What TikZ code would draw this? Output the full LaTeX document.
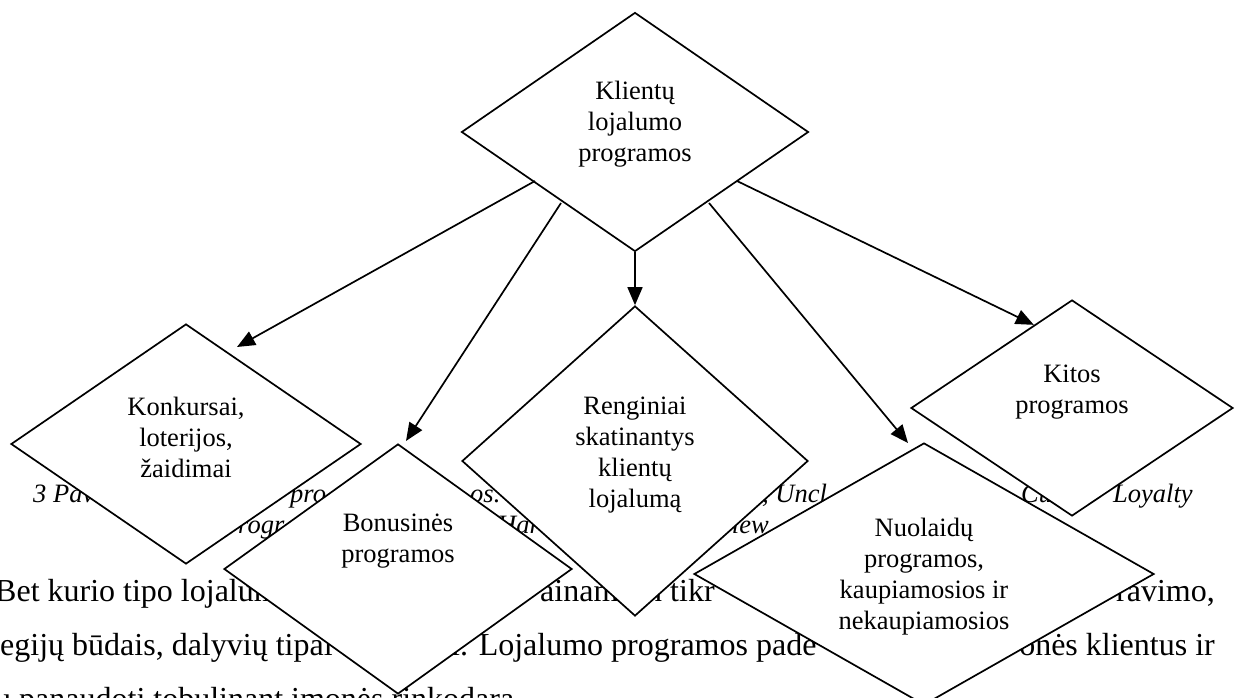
\documentclass[tikz,border=0pt]{standalone}
\usepackage{fontspec}
\setmainfont{Liberation Serif}
\usetikzlibrary{shapes.geometric,arrows.meta,calc}
\newcommand{\dtext}{\fontsize{26.5}{31}\selectfont}
\newcommand{\ctext}{\fontsize{26.5}{31}\selectfont\itshape}
\newcommand{\btext}{\fontsize{32}{36}\selectfont}
\begin{document}
\begin{tikzpicture}[x=1pt,y=-1pt,
  dia/.style={shape=diamond, draw=black, fill=white, line width=1.7pt, inner sep=0pt, aspect=1},
  dlabel/.style={align=center, inner sep=0pt, font=\dtext},
  captext/.style={anchor=base west, inner sep=0pt, font=\ctext},
  bodytext/.style={anchor=base west, inner sep=0pt, font=\btext},
  bodyrtext/.style={anchor=base east, inner sep=0pt, font=\btext},
  arr/.style={line width=1.7pt, -{Triangle[length=18pt,width=15pt]}}]
\useasboundingbox[fill=white] (0,0) rectangle (1242,698);
% text of the page behind the drawing
\node[captext] (c1) at (33,502) {3 Pav};
\node[captext] (c2) at (290,502) {pro};
\node[captext] (c3) at (470,502) {os.};
\node[captext] (c4) at (762,502) {, Uncl};
\node[captext] (c5) at (1021,502) {Cus};
\node[captext] (c6) at (1113,502) {Loyalty};
\node[captext] (c7) at (238,533) {rogr};
\node[captext] (c8) at (497,533) {Harv};
\node[captext] (c9) at (720,533) {view};
\node[bodytext] (b1) at (-5,601) {Bet kurio tipo lojalum};
\node[bodytext] (b2) at (540,601) {ainama};
\node[bodytext] (b3) at (646,601) {n tikr};
\node[bodyrtext] (b4) at (1215,601) {ravimo,};
\node[bodytext] (b5) at (0,655) {egijų būdais, dalyvių tipai};
\node[bodytext] (b6) at (451,655) {i. Lojalumo programos pade};
\node[bodyrtext] (b7) at (1215,655) {onės klientus ir};
\node[bodytext] (b8) at (-5,709) {ų panaudoti tobulinant įmonės rinkodarą};
% diamonds
\node[dia, minimum width=347pt, minimum height=239pt] (K) at (635,132) {};
\node[dia, minimum width=350pt, minimum height=240pt] (Ko) at (186,444) {};
\node[dia, minimum width=348pt, minimum height=250pt] (B) at (398,569) {};
\node[dia, minimum width=346pt, minimum height=310pt] (R) at (635,461) {};
\node[dia, minimum width=460pt, minimum height=262pt] (N) at (924,574) {};
\node[dia, minimum width=322pt, minimum height=216pt] (Ki) at (1072,408) {};
% texts in the diamonds
\node[dlabel] (tK) at (635,124) {Klientų\\lojalumo\\programos};
\node[dlabel] (tKo) at (186,437) {Konkursai,\\loterijos,\\žaidimai};
\node[dlabel] (tB) at (398,541) {Bonusinės\\programos};
\node[dlabel] (tR) at (635,455) {Renginiai\\skatinantys\\klientų\\lojalumą};
\node[dlabel] (tKi) at (1072,392) {Kitos\\programos};
\begin{scope}
\clip (800,500) rectangle (1050,636);
\node[dlabel] (tN) at (924,577) {Nuolaidų\\programos,\\kaupiamosios ir\\nekaupiamosios};
\end{scope}
% connector ends
\coordinate (sKo) at (535,181);
\coordinate (sB) at (561,203);
\coordinate (sN) at (709,203);
\coordinate (sKi) at (737,181);
\coordinate (eKo) at (237,347);
\coordinate (eB) at (406,441);
\coordinate (eN) at (908,443);
\coordinate (eKi) at ($(Ki.north)!0.236!(Ki.west)$);
\draw[arr] (sKo) -- (eKo);
\draw[arr] (sB) -- (eB);
\draw[arr] (K.south) -- (R.north);
\draw[arr] (sN) -- (eN);
\draw[arr] (sKi) -- (eKi);
\end{tikzpicture}
\end{document}
